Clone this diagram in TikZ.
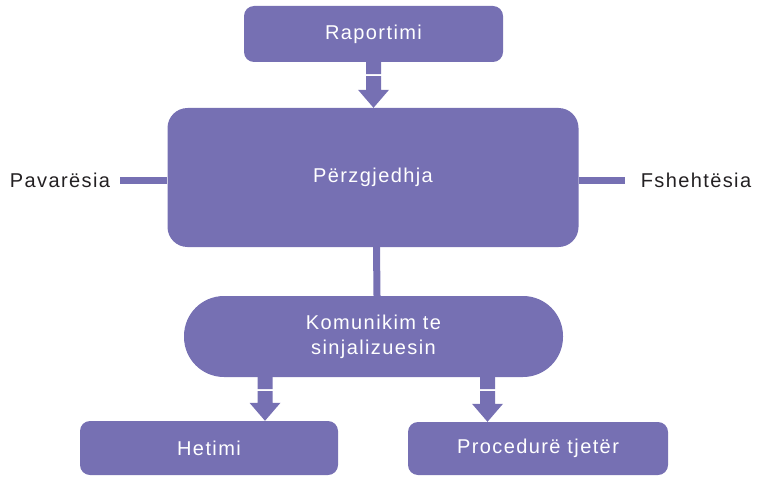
\documentclass[tikz,border=0pt]{standalone}
\usepackage{fontspec}
\setmainfont{Liberation Sans}[LetterSpace=7]
\usepackage{tikz}
\usetikzlibrary{positioning,calc}
\definecolor{flowpurple}{RGB}{118,112,179}
\definecolor{labelgray}{RGB}{35,32,34}

\tikzset{
    box/.style={fill=flowpurple, text=white, rounded corners=10pt, inner sep=0pt,
        align=center, font=\fontsize{20}{25}\selectfont},
    sidelabel/.style={text=labelgray, inner sep=0pt, font=\fontsize{20}{25}\selectfont},
    link/.style={draw=flowpurple, line width=7pt},
    flow/.style={fill=flowpurple}
}

% block arrow with a small cut in the stem, from #1 down to #2
\newcommand{\splitarrow}[2]{%
  \fill[flow] let \p1=#1, \p2=#2 in
    (\x1-7.5pt,\y1) rectangle (\x1+7.5pt,\y1-12pt)
    (\x1-7.5pt,\y1-14pt) rectangle (\x1+7.5pt,\y2+18pt)
    (\x1-15.5pt,\y2+18pt) -- (\x1+15.5pt,\y2+18pt) -- (\x1,\y2) -- cycle;}

\begin{document}
\begin{tikzpicture}[x=1pt,y=-1pt]
\useasboundingbox (0,0) rectangle (762,476);

% boxes
\node[box, minimum width=259pt, minimum height=56pt] (rap) at (373.5,34) {Raportimi};
\node[box, rounded corners=20pt, minimum width=411pt, minimum height=139pt] (perz) at (373,177.5) {Përzgjedhja};
\node[box, rounded corners=40pt, minimum width=379pt, minimum height=81pt] (kom) at (373.5,336.5) {Komunikim te\\sinjalizuesin};
\node[box, minimum width=258pt, minimum height=54pt] (het) at (209,448) {Hetimi};
\node[box, minimum width=260pt, minimum height=53pt] (proc) at (538,448.5) {Procedurë tjetër};

% side labels
\node[sidelabel] (pav) at (60,180) {Pavarësia};
\node[sidelabel] (fsh) at (696,180) {Fshehtësia};

% connectors
\draw[link] ($(pav.east)+(10,0)$) -- (perz.west |- pav.east);
\draw[link] (perz.east |- fsh.west) -- ($(fsh.west)+(-16,0)$);
\draw[link] ([xshift=3.5pt]perz.south) -- ([xshift=3.5pt]kom.north);

\splitarrow{(rap.south)}{(perz.north)}
\splitarrow{([xshift=-108.5pt]kom.south)}{(het.north)}
\splitarrow{([xshift=114pt]kom.south)}{(proc.north)}
\end{tikzpicture}
\end{document}
